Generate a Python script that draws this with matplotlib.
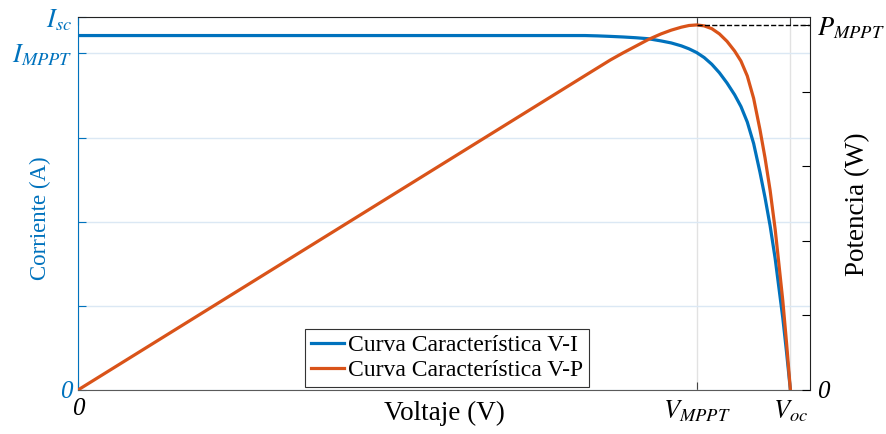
import matplotlib
matplotlib.use("Agg")
import matplotlib.pyplot as plt
from matplotlib.lines import Line2D

plt.rcParams['font.family'] = ['Liberation Serif', 'DejaVu Serif']
plt.rcParams['mathtext.fontset'] = 'stix'

# valores
voltaje = [0, 5, 10, 15, 20, 20.5, 21, 21.5, 22, 22.5, 23.0, 23.4, 23.8,
           24.1, 24.4, 24.7, 25.0, 25.3, 25.6, 25.9, 26.15, 26.4, 26.65,
           26.9, 27.1, 27.3, 27.5, 27.65, 27.8, 27.95, 28.1]
corriente = [4.220, 4.220, 4.220, 4.220, 4.220, 4.216, 4.210, 4.203, 4.194,
             4.182, 4.156, 4.132, 4.097, 4.062, 4.018, 3.958, 3.878, 3.777,
             3.655, 3.515, 3.375, 3.190, 2.935, 2.592, 2.290, 1.955, 1.564,
             1.210, 0.858, 0.445, 0]
potencia = [0, 21.1, 42.2, 63.3, 84.4, 86.5, 88.6, 90.5, 92.3, 94.1, 95.6,
            96.6, 97.4, 97.85, 98.0, 97.75, 97.0, 95.6, 93.6, 91.0, 88.3,
            84.3, 78.3, 69.9, 62.3, 53.6, 43.1, 33.6, 24.0, 12.5, 0]

v_mppt = 24.4
v_oc = 28.1
v_max = 28.89
i_mppt = 4.018
i_sc = 4.435
p_mppt = 98.0
p_max = 100

azul = '#0072BD'
naranja = '#D95319'

fig = plt.figure(figsize=(8.86, 4.34), dpi=100)
ax = fig.add_axes([0.088, 0.1014, 0.8267, 0.8583])
ax2 = ax.twinx()

ax.plot(voltaje, corriente, color=azul, lw=2.3)
ax2.plot(voltaje, potencia, color=naranja, lw=2.3)
ax2.plot([v_mppt, v_max], [p_mppt, p_mppt], 'k--', lw=1.0)

ax.set_xlim(0, v_max)
ax.set_ylim(0, i_sc)
ax2.set_ylim(0, p_max)

ax.set_xticks([0, v_mppt, v_oc])
ax.set_xticklabels(['0', r'$V_{MPPT}$', r'$V_{oc}$'], fontsize=19)
ax.set_yticks([0, 1, 2, 3, i_mppt, i_sc])
ax.set_yticklabels(['0', '', '', '', r'$I_{MPPT}$', r'$I_{sc}$'], fontsize=19)
ax2.set_yticks([0, 20, 40, 60, 80, p_mppt])
ax2.set_yticklabels(['0', '', '', '', '', r'$P_{MPPT}$'], fontsize=19)

# los ceros en cursiva y un poco mas chicos
for lab in [ax.get_xticklabels()[0], ax.get_yticklabels()[0], ax2.get_yticklabels()[0]]:
    lab.set_fontstyle('italic')
    lab.set_fontsize(18)

ax.tick_params(axis='x', direction='in', length=6, top=True, pad=6,
               color='#444444', labelcolor='black')
ax.tick_params(axis='y', direction='in', length=6, pad=4, color=azul,
               labelcolor=azul)
ax2.tick_params(axis='y', direction='in', length=6, pad=5, color='black')

ax.xaxis.grid(True, color='#e2e2e2', lw=1.0)
ax.yaxis.grid(True, color='#dbe8f4', lw=1.0)
ax.set_axisbelow(True)

for s in ['top', 'bottom', 'left']:
    ax2.spines[s].set_visible(False)
ax.spines['right'].set_visible(False)
ax.spines['left'].set_color(azul)
ax.spines['top'].set_color('#222222')
ax.spines['bottom'].set_color('#5a5a5a')
ax2.spines['right'].set_color('#222222')

ax.set_xlabel('Voltaje (V)', fontsize=19.5)
ax.xaxis.set_label_coords(0.5, -0.03)
ax.set_ylabel('Corriente (A)', fontsize=16.5, color=azul)
ax.yaxis.set_label_coords(-0.037, 0.46)
ax2.set_ylabel('Potencia (W)', fontsize=19.5)
ax2.yaxis.set_label_coords(1.048, 0.5)

handles = [Line2D([], [], color=azul, lw=2.3), Line2D([], [], color=naranja, lw=2.3)]
leg = ax2.legend(handles, ['Curva Característica V-I', 'Curva Característica V-P'],
                 loc='lower left', bbox_to_anchor=(0.31, 0.008), fontsize=17,
                 fancybox=False, framealpha=1, edgecolor='#333333',
                 handlelength=1.4, handletextpad=0.15, borderpad=0.25,
                 labelspacing=0.15, borderaxespad=0)
leg.get_frame().set_linewidth(0.8)

fig.savefig('out.png', dpi=100)
